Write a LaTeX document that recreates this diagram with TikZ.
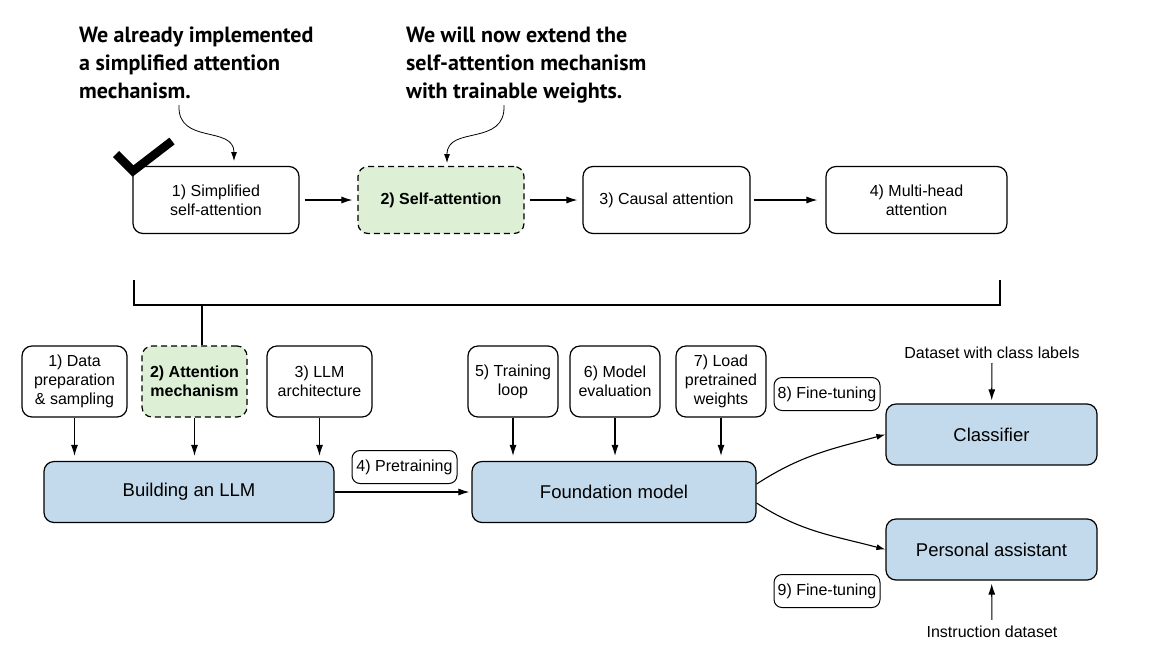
\documentclass[tikz,border=0pt]{standalone}
\usepackage{fontspec}
\setmainfont{Liberation Sans}
\newfontfamily\headfont{PT Sans}
\usetikzlibrary{arrows.meta}
\definecolor{boxgreen}{HTML}{DDF0D5}
\definecolor{boxblue}{HTML}{C3DAEC}
\begin{document}
\begin{tikzpicture}[x=1pt,y=-1pt,
  box/.style={draw, rounded corners=10pt, line width=1.2pt, fill=white, align=center, inner sep=0pt,
    font=\fontsize{16}{19}\selectfont},
  topbox/.style={box, minimum width=166pt, minimum height=67pt},
  smallbox/.style={box, minimum width=105pt, minimum height=71pt},
  midbox/.style={box, minimum width=90pt, minimum height=71pt},
  bigbox/.style={box, fill=boxblue, font=\fontsize{18.5}{22}\selectfont, minimum height=61pt},
  hl/.style={fill=boxgreen, dash pattern=on 6pt off 4pt, font=\fontsize{16}{19}\selectfont\bfseries},
  lbl/.style={draw, rounded corners=8pt, line width=1pt, fill=white, inner xsep=3pt, inner ysep=0pt,
    minimum height=33pt, font=\fontsize{16}{19}\selectfont},
  plain/.style={inner sep=0pt, font=\fontsize{16}{19}\selectfont},
  head/.style={inner sep=0pt, align=left, anchor=north west, font=\headfont\bfseries\fontsize{22}{28}\selectfont},
  arr/.style={-{Latex[length=11pt,width=7pt]}, line width=1.1pt},
  thinarr/.style={-{Latex[length=9pt,width=6pt]}, line width=0.8pt},
]
\useasboundingbox[fill=white] (0,0) rectangle (1164,665);

% headings
\node[head] (h1) at (79,27) {We already implemented\\a simplified attention\\mechanism.};
\node[head] (h2) at (406,27) {We will now extend the\\self-attention mechanism\\with trainable weights.};

% top row
\node[topbox] (t1) at (216,200) {1) Simplified\\self-attention};
\node[topbox, hl] (t2) at (441,200) {2) Self-attention};
\node[topbox, minimum width=167pt] (t3) at (666.5,200) {3) Causal attention};
\node[topbox, minimum width=181pt] (t4) at (916.5,200) {4) Multi-head\\attention};

\draw[arr, shorten <=5pt, shorten >=5pt] (t1) -- (t2);
\draw[arr, shorten <=5pt, shorten >=5pt] (t2) -- (t3);
\draw[arr, shorten <=3pt, shorten >=8pt] (t3) -- (t4);

% check mark
\draw[line width=8.5pt, line join=miter] (116,154) -- (133,171) -- (172,141);

% annotation arrows
\coordinate (a1s) at (179,105);
\coordinate (a1e) at (234,161);
\draw[thinarr] (a1s) .. controls (177,145) and (234,125) .. (a1e);
\coordinate (a2s) at (504,105);
\coordinate (a2e) at (447,163);
\draw[thinarr] (a2s) .. controls (506,147) and (447,125) .. (a2e);

% bracket
\coordinate (bl) at (134,280);
\coordinate (blc) at (134,305);
\coordinate (brc) at (1000,305);
\coordinate (br) at (1000,280);
\coordinate (stub) at (202,305);
\draw[line width=1.2pt] (bl) -- (blc) -- (brc) -- (br);

% bottom small boxes
\node[smallbox] (b1) at (74.5,381.5) {1) Data\\preparation\\\& sampling};
\node[smallbox, hl] (b2) at (194.5,381.5) {2) Attention\\mechanism};
\node[smallbox] (b3) at (319.5,381.5) {3) LLM\\architecture};
\draw[line width=1.2pt] (stub) -- (stub |- b2.north);

\node[midbox] (b5) at (513,381.5) {5) Training\\loop};
\node[midbox] (b6) at (615,381.5) {6) Model\\evaluation};
\node[midbox] (b7) at (721,381.5) {7) Load\\pretrained\\weights};

% big boxes
\node[bigbox, minimum width=290pt] (build) at (189,492) {Building an LLM};
\node[bigbox, minimum width=284pt] (found) at (614,492) {Foundation model};
\node[bigbox, minimum width=211pt] (cls) at (991.5,434.5) {Classifier};
\node[bigbox, minimum width=211pt] (pa) at (991.5,549.5) {Personal assistant};

\draw[arr, shorten >=5pt] (b1) -- (b1 |- build.north);
\draw[arr, shorten >=5pt] (b2) -- (b2 |- build.north);
\draw[arr, shorten >=5pt] (b3) -- (b3 |- build.north);
\draw[arr, shorten >=5pt] (b5) -- (b5 |- found.north);
\draw[arr, shorten >=5pt] (b6) -- (b6 |- found.north);
\draw[arr, shorten >=5pt] (b7) -- (b7 |- found.north);

% labels
\node[lbl, minimum width=105pt] (pre) at (404.5,467) {4) Pretraining};
\node[lbl, minimum width=106pt] (ft8) at (827,394) {8) Fine-tuning};
\node[lbl, minimum width=106pt] (ft9) at (827,591) {9) Fine-tuning};

\draw[arr, shorten >=2pt] (build) -- (found);
\draw[thinarr, line width=1.1pt] ([yshift=8pt]found.east) to[out=33, in=195] (cls.west);
\draw[thinarr, line width=1.1pt] ([yshift=-11pt]found.east) to[out=-33, in=165] (pa.west);

\node[plain] (dcl) at (992,353) {Dataset with class labels};
\node[plain] (ids) at (992,632) {Instruction dataset};
\draw[arr, shorten <=4pt, shorten >=3pt] (dcl) -- (cls);
\draw[arr, shorten <=6pt, shorten >=3pt] (ids) -- (pa);
\end{tikzpicture}
\end{document}
